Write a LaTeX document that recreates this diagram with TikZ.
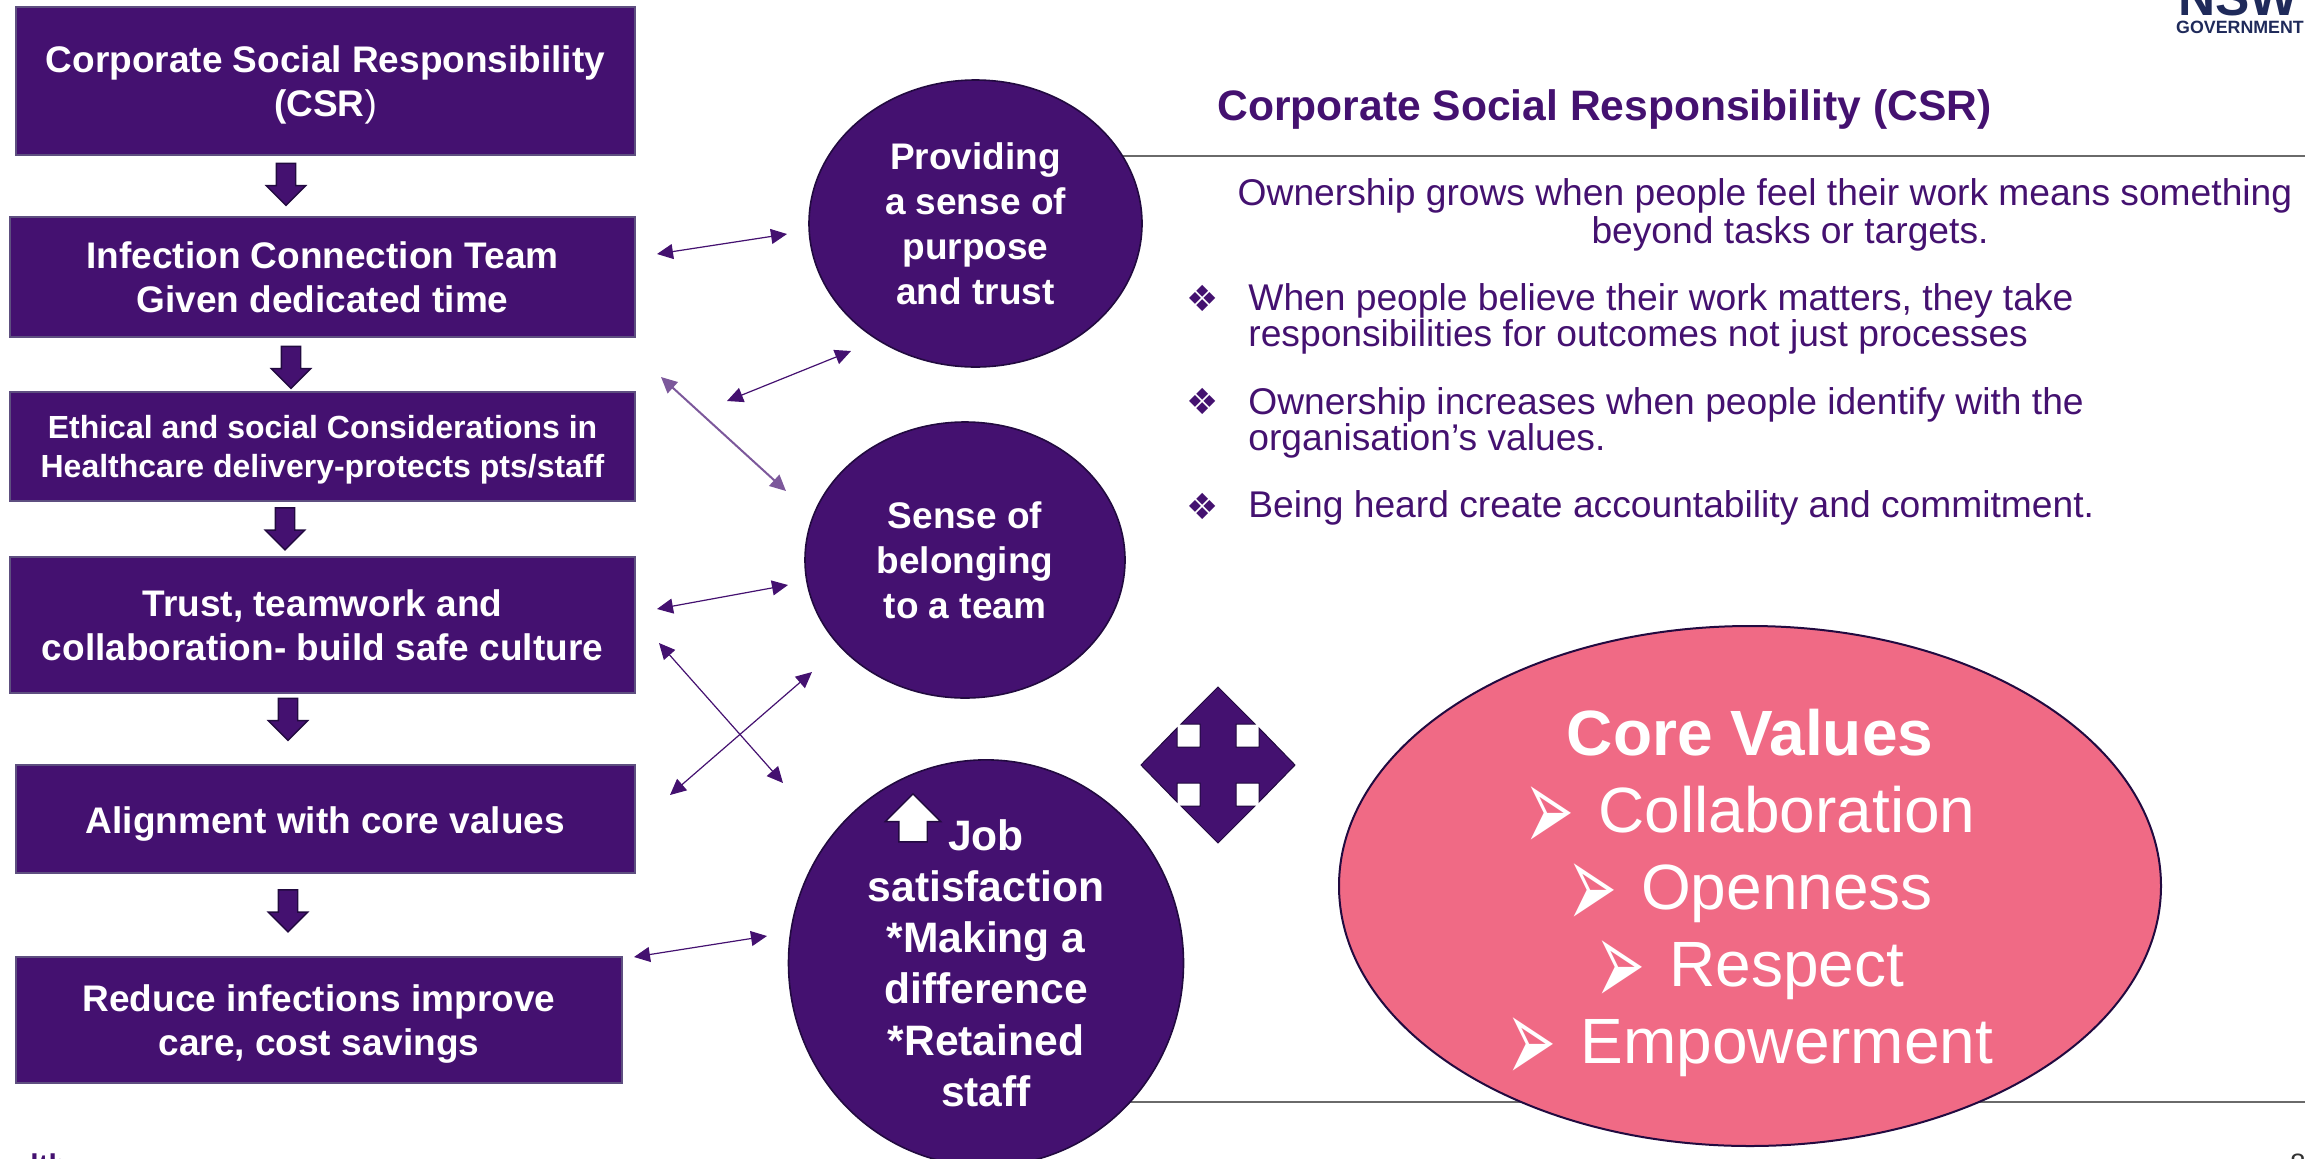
\documentclass[tikz,border=0pt]{standalone}
\usepackage{fontspec}
\setmainfont{Liberation Sans}
\newfontfamily\symfont{DejaVu Sans}
\usetikzlibrary{shapes.geometric,shapes.arrows,arrows.meta}
\definecolor{nswpurple}{HTML}{441170}
\definecolor{edgepurple}{HTML}{5E4F80}
\definecolor{darkpurple}{HTML}{220A40}
\definecolor{corepink}{HTML}{F06A85}
\definecolor{rulegrey}{HTML}{6A6A6A}
\definecolor{nswnavy}{HTML}{1F2A5A}
\newcommand\corebullet{\raisebox{-9.6pt}[0pt][0pt]{\scalebox{0.93}[1.9]{\symfont ➢}}\hspace{12pt}}
\newcommand\topgap[1]{\rule{0pt}{#1}}
\tikzset{
  stepbox/.style={draw=edgepurple,line width=1pt,fill=nswpurple,text=white,font=\bfseries\fontsize{18.5}{22.4}\selectfont,align=center,inner sep=0pt,text depth=0pt,execute at begin node=\topgap{0.79em}},
  blob/.style={ellipse,draw=darkpurple,line width=0.8pt,fill=nswpurple,text=white,font=\bfseries\fontsize{18.5}{22.5}\selectfont,align=center,inner sep=0pt},
  downarrow/.style={single arrow,rotate=-90,draw=darkpurple,line width=0.7pt,fill=nswpurple,inner sep=4.5pt,single arrow head extend=5pt,single arrow head indent=0pt,minimum height=21pt},
  link/.style={{Triangle[length=8pt,width=7.5pt]}-{Triangle[length=8pt,width=7.5pt]},nswpurple,line width=0.6pt},
  plain/.style={text=nswpurple,font=\fontsize{18.6}{18}\selectfont,inner sep=0pt,align=left},
  rulerline/.style={rulegrey,line width=1pt}
}
\begin{document}
\begin{tikzpicture}[x=0.5pt,y=-0.5pt]
\clip (0,0) rectangle (2320,1158);
\draw[rulerline] (1100,156) -- (2305,156);
\draw[rulerline] (1100,1102) -- (2305,1102);

\node[stepbox,minimum width=309.5pt,minimum height=74pt] (csr) at (325.5,81) {Corporate Social Responsibility\\(CSR{\normalfont)}};
\node[stepbox,minimum width=312.5pt,minimum height=60pt] (team) at (322.5,277) {Infection Connection Team\\Given dedicated time};
\node[stepbox,minimum width=312.5pt,minimum height=54.5pt,font=\bfseries\fontsize{16}{19.5}\selectfont] (ethics) at (322.5,446.5) {Ethical and social Considerations in\\Healthcare delivery-protects pts/staff};
\node[stepbox,minimum width=312.5pt,minimum height=68pt] (trust) at (322.5,625) {Trust, teamwork and\\collaboration- build safe culture};
\node[stepbox,minimum width=309.5pt,minimum height=54pt] (align) at (325.5,819) {Alignment with core values};
\node[stepbox,minimum width=303pt,minimum height=63pt] (reduce) at (319,1020) {Reduce infections improve\\care, cost savings};

\foreach \x/\y [count=\i] in {286/179.5,291/362.5,285/524,288/714.5,288/906}
  \node[downarrow] (down\i) at (\x,\y) {};

\node[blob,minimum width=166.5pt,minimum height=143.5pt,execute at begin node=\topgap{0.84em}] (purpose) at (975.5,223.5) {Providing\\a sense of\\purpose\\and trust};
\node[blob,minimum width=160pt,minimum height=138pt] (belong) at (965,560) {Sense of\\belonging\\to a team};
\node[blob,minimum width=197.5pt,minimum height=198pt,font=\bfseries\fontsize{21.3}{25.6}\selectfont,execute at begin node=\topgap{0.82em}] (job) at (986,963) {Job\\satisfaction\\*Making a\\difference\\*Retained\\staff};
\node[single arrow,rotate=90,draw=darkpurple,line width=0.7pt,fill=white,inner sep=6.75pt,single arrow head extend=6.75pt,single arrow head indent=0pt,minimum height=24pt] (up) at (913,825) {};

\coordinate (teamR) at (657,254);
\coordinate (purposeA) at (787,234);
\coordinate (ethicsA) at (727,401);
\coordinate (purposeB) at (851,351);
\coordinate (ethicsR) at (661,377);
\coordinate (belongA) at (786,491);
\coordinate (trustR) at (657,609);
\coordinate (belongB) at (788,585);
\coordinate (trustB) at (659,643);
\coordinate (jobA) at (783,783);
\coordinate (alignR) at (670,795);
\coordinate (belongC) at (812,672);
\coordinate (reduceR) at (634,957);
\coordinate (jobB) at (767,936);
\draw[link] (teamR) -- (purposeA);
\draw[link] (ethicsA) -- (purposeB);
\draw[link,line width=1pt,nswpurple!70] (ethicsR) -- (belongA);
\draw[link] (trustR) -- (belongB);
\draw[link] (trustB) -- (jobA);
\draw[link] (alignR) -- (belongC);
\draw[link] (reduceR) -- (jobB);

\draw[fill=nswpurple,draw=darkpurple,line width=0.5pt] (1218,687) -- (1255,724) -- (1236,724) -- (1236,747) -- (1259,747) -- (1259,728) -- (1295,765) -- (1259,802) -- (1259,783) -- (1236,783) -- (1236,806) -- (1255,806) -- (1218,843) -- (1181,806) -- (1200,806) -- (1200,783) -- (1177,783) -- (1177,802) -- (1141,765) -- (1177,728) -- (1177,747) -- (1200,747) -- (1200,724) -- (1181,724) -- cycle;

\node[ellipse,draw=darkpurple,line width=1pt,fill=corepink,text=white,minimum width=411pt,minimum height=260pt,inner sep=0pt,align=center,font=\fontsize{32}{38.5}\selectfont,text depth=0pt,execute at begin node=\topgap{1em}] (core) at (1750,886) {{\bfseries Core Values}\\\corebullet Collaboration\\\corebullet Openness\\\corebullet Respect\\\corebullet Empowerment};

\node[plain,anchor=base west,text=nswpurple,font=\bfseries\fontsize{21.3}{24}\selectfont] (title) at (1217,120) {Corporate Social Responsibility (CSR)};
\node[plain,anchor=center,align=center,font=\fontsize{18.6}{19}\selectfont] (lead) at (1765,215) {Ownership grows when people feel their work means something\\\hspace*{25pt}beyond tasks or targets.};
\node[plain,anchor=base west] (point1) at (1248,346) {When people believe their work matters, they take\\responsibilities for outcomes not just processes};
\node[plain,anchor=base west] (point2) at (1248,450) {Ownership increases when people identify with the\\organisation’s values.};
\node[plain,anchor=base west] (point3) at (1248,517) {Being heard create accountability and commitment.};
\foreach \y/\n in {298/1,401/2,506/3}
  \node[plain,font=\symfont\fontsize{18}{18}\selectfont] (bullet\n) at (1203,\y) {❖};

\node[text=nswnavy,font=\bfseries\fontsize{25.7}{26}\selectfont,inner sep=0pt,anchor=base] (nsw) at (2238,15) {NSW};
\node[text=nswnavy,font=\bfseries\fontsize{8.9}{9}\selectfont,inner sep=0pt,anchor=base] (gov) at (2240,33) {GOVERNMENT};
\node[text=nswpurple,font=\bfseries\fontsize{15}{15}\selectfont,inner sep=0pt,anchor=base west] (foot) at (30,1175) {lth};
\node[text=black!80,font=\fontsize{14}{14}\selectfont,inner sep=0pt,anchor=base] (pagenum) at (2298,1173) {8};
\end{tikzpicture}
\end{document}
